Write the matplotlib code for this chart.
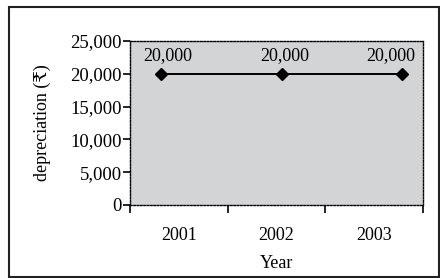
import matplotlib.pyplot as plt
from matplotlib.patches import Rectangle
from matplotlib.ticker import FuncFormatter

plt.rcParams['font.family'] = ['Liberation Serif', 'DejaVu Serif', 'DejaVu Sans']

years = ['2001', '2002', '2003']
year_pos = [0.32, 1.56, 2.78]
depreciation = [20000, 20000, 20000]
y_ticks = [0, 5000, 10000, 15000, 20000, 25000]

fs = 13
label_shift = [5, 1.5, -8]  # horizontal nudge of value labels, points

fig = plt.figure(figsize=(4.4, 2.78), dpi=100)
ax = fig.add_axes([0.2955, 0.2626, 0.666, 0.590])
ax.set_facecolor('#d3d4d6')

ax.plot(year_pos, depreciation, color='black', lw=1.4, marker='D', ms=6)
for x, v, dx in zip(year_pos, depreciation, label_shift):
    ax.annotate(f'{v:,}', (x, v), xytext=(dx, 7), textcoords='offset points',
                ha='center', va='bottom', fontsize=fs)

ax.set_xlim(0, 3)
ax.set_ylim(0, 25000)
ax.set_xticks([0, 1, 2, 3])
ax.set_xticklabels([])
ax.set_xticks([0.5, 1.5, 2.5], minor=True)
ax.set_xticklabels(years, minor=True, fontsize=fs)
ax.tick_params(axis='x', which='major', length=6, width=1.2, direction='out')
ax.tick_params(axis='x', which='minor', length=0, pad=16)
ax.set_yticks(y_ticks)
ax.yaxis.set_major_formatter(FuncFormatter(lambda v, p: f'{int(v):,}'))
ax.tick_params(axis='y', length=5, width=1.2, direction='out', labelsize=13.5, pad=1)

for s in ax.spines.values():
    s.set_linestyle((0, (1.2, 1.2)))
    s.set_linewidth(1.0)

ax.set_xlabel('Year', fontsize=fs, labelpad=8)
ax.set_ylabel('depreciation (₹)', fontsize=fs, labelpad=14)

fig.patches.append(Rectangle((9 / 440, 1 / 278), 430 / 440, 270 / 278,
                             transform=fig.transFigure, fill=False,
                             edgecolor='#222222', lw=1.5))

fig.savefig('out.png', dpi=100)
